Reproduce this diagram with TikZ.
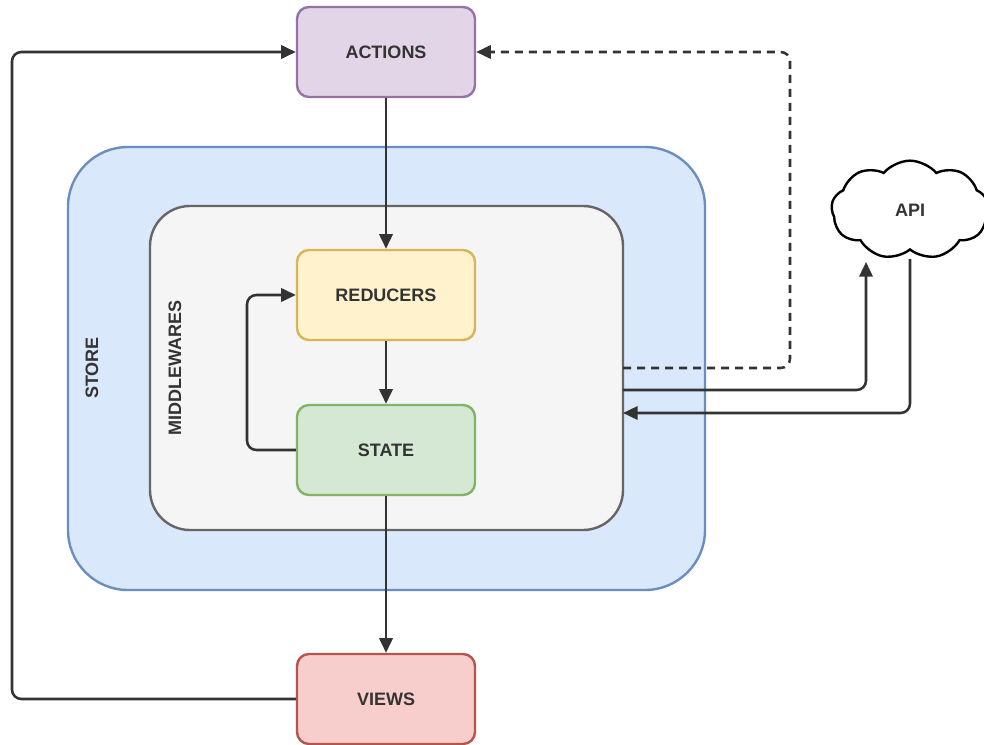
\documentclass[tikz,border=0pt]{standalone}
\usepackage{fontspec}
\setmainfont{Liberation Sans}
\usetikzlibrary{arrows.meta,shapes.symbols}
\definecolor{txt}{HTML}{333333}
\definecolor{actF}{HTML}{E1D5E7}\definecolor{actS}{HTML}{9673A6}
\definecolor{stoF}{HTML}{DAE8FC}\definecolor{stoS}{HTML}{6C8EBF}
\definecolor{midF}{HTML}{F5F5F5}\definecolor{midS}{HTML}{666666}
\definecolor{redF}{HTML}{FFF2CC}\definecolor{redS}{HTML}{D6B656}
\definecolor{staF}{HTML}{D5E8D4}\definecolor{staS}{HTML}{82B366}
\definecolor{vieF}{HTML}{F8CECC}\definecolor{vieS}{HTML}{B85450}
\tikzset{
  box/.style={draw, line width=1.8pt, rounded corners=9pt, minimum width=133.5pt, minimum height=67.5pt, inner sep=0pt, text=txt, font=\fontsize{13.5}{15}\selectfont\bfseries},
  conn/.style={draw=txt, line width=1.9pt, rounded corners=7pt, -{Triangle[length=11pt,width=10pt]}},
  lbl/.style={text=txt, font=\fontsize{13.5}{15}\selectfont\bfseries, rotate=90}
}
\begin{document}
\begin{tikzpicture}[x=0.75pt,y=-0.75pt]
\useasboundingbox (0,0) rectangle (984,745);
\fill[white] (0,0) rectangle (984,745);
% store
\draw[fill=stoF, draw=stoS, line width=1.8pt, rounded corners=45pt] (68,147) rectangle (705,590);
\node[lbl] (store) at (92,368) {STORE};
% middlewares
\draw[fill=midF, draw=midS, line width=1.8pt, rounded corners=30pt] (150,206) rectangle (623,530);
\node[lbl] (mw) at (175,368) {MIDDLEWARES};
\coordinate (mwA) at (623,368);
\coordinate (mwB) at (623,390);
\coordinate (mwC) at (623,413);
% boxes
\node[box, fill=actF, draw=actS] (actions) at (386,52) {ACTIONS};
\node[box, fill=redF, draw=redS] (reducers) at (386,295) {REDUCERS};
\node[box, fill=staF, draw=staS] (state) at (386,450) {STATE};
\node[box, fill=vieF, draw=vieS] (views) at (386,699) {VIEWS};
% cloud
\node[cloud, draw=black, fill=white, line width=1.8pt, cloud puffs=9, cloud puff arc=100, aspect=1.7, minimum width=118pt, minimum height=74pt, inner sep=0pt, text=txt, font=\fontsize{13.5}{15}\selectfont\bfseries] (api) at (910,210) {API};
\coordinate (apiIn) at (866,262);
\coordinate (apiOut) at (910,259);
% connectors
\draw[conn] (actions) -- (reducers);
\draw[conn] (reducers) -- (state);
\draw[conn] (state) -- (views);
\draw[conn] (state.west) -- (247,450) -- (247,295) -- (reducers.west);
\draw[conn] (views.west) -- (12,699) -- (12,52) -- (actions.west);
\draw[conn, dashed, dash pattern=on 6pt off 4.5pt] (mwA) -- (790,368) -- (790,52) -- (actions.east);
\draw[conn] (mwB) -- (866,390) -- (apiIn);
\draw[conn] (apiOut) -- (910,413) -- (mwC);
\end{tikzpicture}
\end{document}
